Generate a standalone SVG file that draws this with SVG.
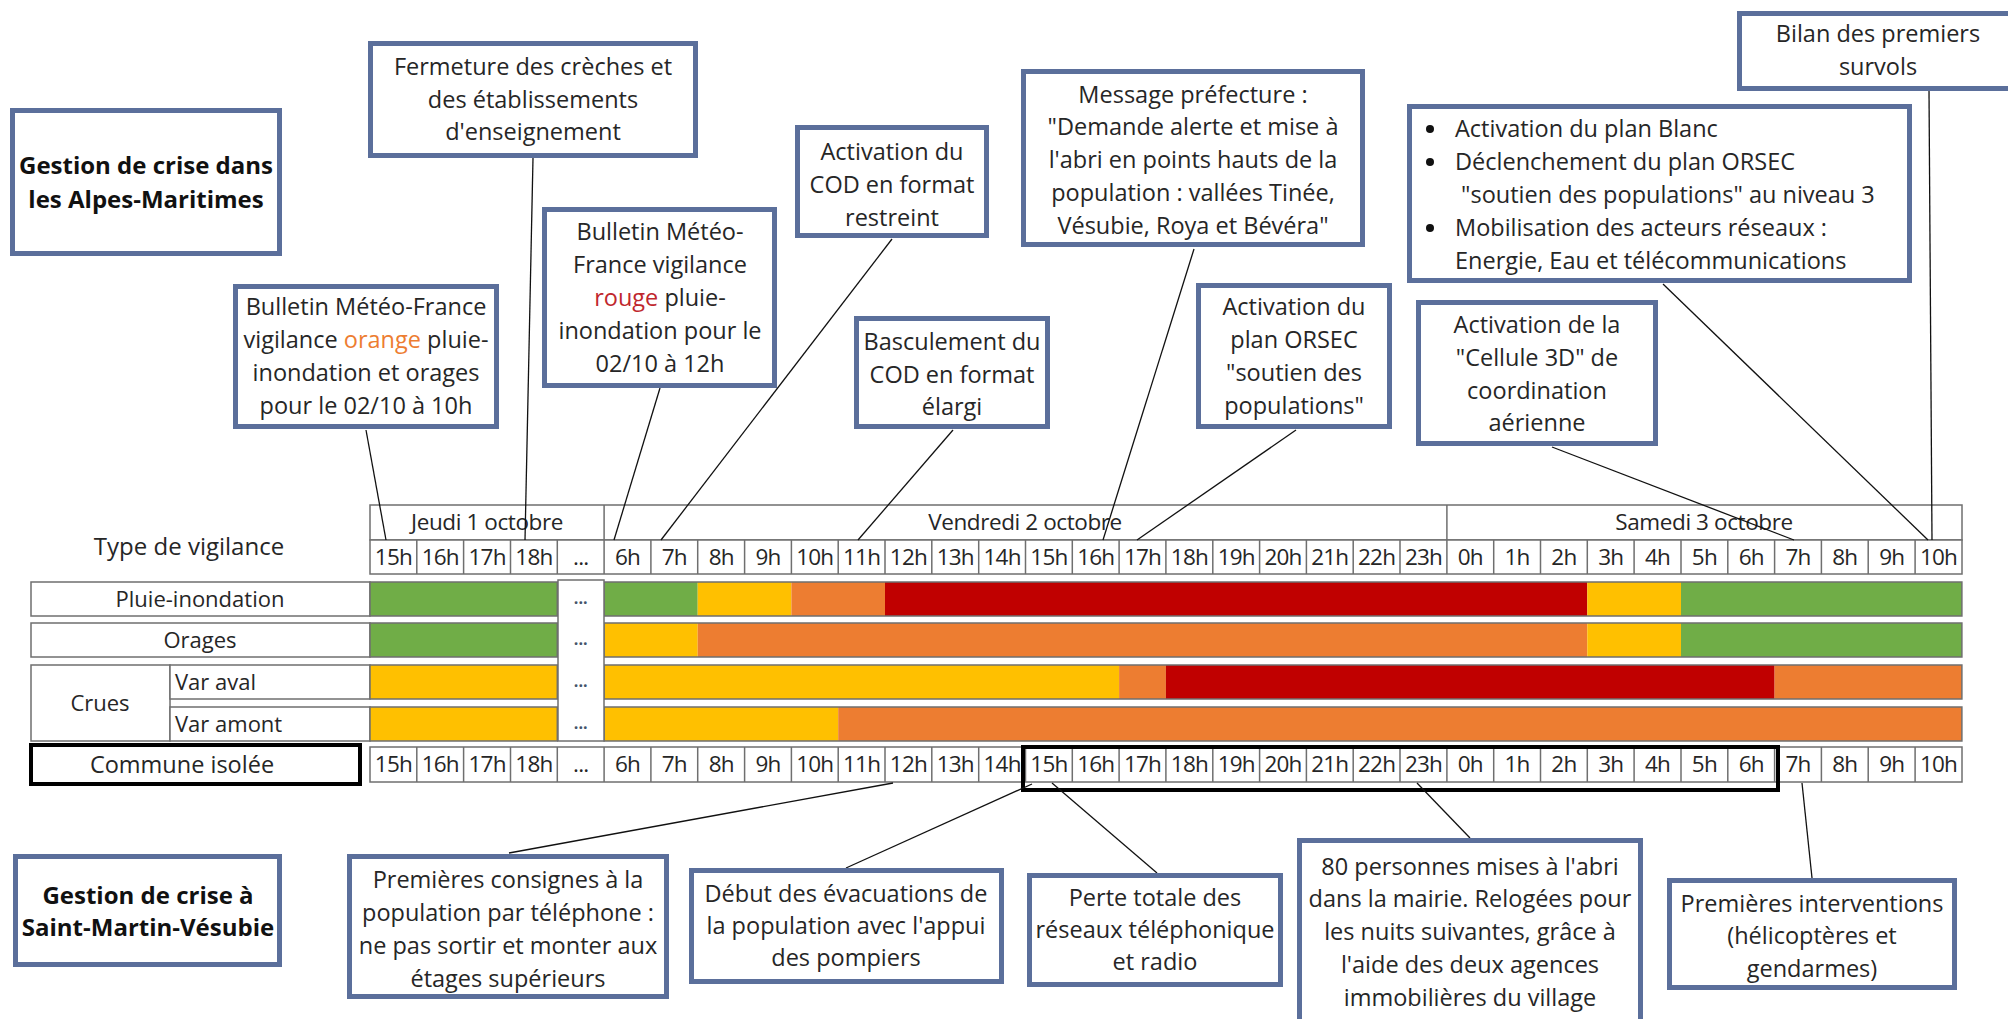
<svg xmlns="http://www.w3.org/2000/svg" width="2008" height="1019" viewBox="0 0 2008 1019">
<style>
.box{fill:#fff;stroke:#5B6F9B;stroke-width:5}
.t{font-family:"Open Sans","DejaVu Sans",sans-serif;font-size:23.5px;fill:#262626;text-anchor:middle}
.rl{font-size:22px}
.l{text-anchor:start}
.bd{font-weight:bold;fill:#111;font-size:24px}
.cell{fill:#fff;stroke:#6f6f6f;stroke-width:1.5}
.h{font-family:"Open Sans","DejaVu Sans",sans-serif;font-size:22.5px;fill:#262626;text-anchor:middle;letter-spacing:-0.8px}
.day{font-size:22.5px;letter-spacing:-0.4px}
.dots{font-family:"Open Sans",sans-serif;font-size:16px;fill:#44546A;text-anchor:middle;font-weight:bold}
.g{fill:#70AD47}.y{fill:#FFC000}.o{fill:#ED7D31}.r{fill:#C00000}
.conn line{stroke:#111;stroke-width:1.3}
.grid{fill:none;stroke:#6f6f6f;stroke-width:1.5}
.bul{fill:#111}
</style>

<g id="table">
  <!-- day header -->
  <rect class="cell" x="370" y="505" width="1592" height="35"/>
  <path class="grid" d="M604.1 505V540M1446.9 505V540"/>
  <text class="h day" x="487" y="530">Jeudi 1 octobre</text>
  <text class="h day" x="1025" y="530">Vendredi 2 octobre</text>
  <text class="h day" x="1704" y="530">Samedi 3 octobre</text>
  <!-- hour row top -->
  <rect class="cell" x="370" y="540" width="1592" height="34"/>
  <path class="grid" d="M416.8 540V574M463.6 540V574M510.5 540V574M557.3 540V574M604.1 540V574M650.9 540V574M697.7 540V574M744.6 540V574M791.4 540V574M838.2 540V574M885 540V574M931.8 540V574M978.7 540V574M1025.5 540V574M1072.3 540V574M1119.1 540V574M1165.9 540V574M1212.8 540V574M1259.6 540V574M1306.4 540V574M1353.2 540V574M1400 540V574M1446.9 540V574M1493.7 540V574M1540.5 540V574M1587.3 540V574M1634.1 540V574M1681 540V574M1727.8 540V574M1774.6 540V574M1821.4 540V574M1868.2 540V574M1915.1 540V574"/>
  <g id="hours-top">
    <text class="h" x="393.4" y="565">15h</text><text class="h" x="440.2" y="565">16h</text><text class="h" x="487.1" y="565">17h</text><text class="h" x="533.9" y="565">18h</text><text class="h" x="580.7" y="565">...</text>
    <text class="h" x="627.5" y="565">6h</text><text class="h" x="674.3" y="565">7h</text><text class="h" x="721.2" y="565">8h</text><text class="h" x="768" y="565">9h</text><text class="h" x="814.8" y="565">10h</text><text class="h" x="861.6" y="565">11h</text><text class="h" x="908.4" y="565">12h</text><text class="h" x="955.3" y="565">13h</text><text class="h" x="1002.1" y="565">14h</text><text class="h" x="1048.9" y="565">15h</text><text class="h" x="1095.7" y="565">16h</text><text class="h" x="1142.5" y="565">17h</text><text class="h" x="1189.4" y="565">18h</text><text class="h" x="1236.2" y="565">19h</text><text class="h" x="1283" y="565">20h</text><text class="h" x="1329.8" y="565">21h</text><text class="h" x="1376.6" y="565">22h</text><text class="h" x="1423.5" y="565">23h</text>
    <text class="h" x="1470.3" y="565">0h</text><text class="h" x="1517.1" y="565">1h</text><text class="h" x="1563.9" y="565">2h</text><text class="h" x="1610.7" y="565">3h</text><text class="h" x="1657.6" y="565">4h</text><text class="h" x="1704.4" y="565">5h</text><text class="h" x="1751.2" y="565">6h</text><text class="h" x="1798" y="565">7h</text><text class="h" x="1844.8" y="565">8h</text><text class="h" x="1891.7" y="565">9h</text><text class="h" x="1938.5" y="565">10h</text>
  </g>
  <text class="t" x="189" y="555" style="font-size:24px">Type de vigilance</text>

  <!-- row labels -->
  <rect class="cell" x="31" y="582" width="339" height="34"/>
  <text class="t rl" x="200" y="607">Pluie-inondation</text>
  <rect class="cell" x="31" y="623" width="339" height="34"/>
  <text class="t rl" x="200" y="648">Orages</text>
  <rect class="cell" x="31" y="665" width="139" height="76"/>
  <text class="t rl" x="100" y="711">Crues</text>
  <rect class="cell" x="170" y="665" width="200" height="34"/>
  <text class="t rl l" x="175" y="690">Var aval</text>
  <rect class="cell" x="170" y="707" width="200" height="34"/>
  <text class="t rl l" x="175" y="732">Var amont</text>

  <!-- bars -->
  <g id="bar-pluie">
    <rect class="g" x="370" y="582" width="187.3" height="34"/>
    <rect class="g" x="604.1" y="582" width="93.6" height="34"/>
    <rect class="y" x="697.7" y="582" width="93.7" height="34"/>
    <rect class="o" x="791.4" y="582" width="93.6" height="34"/>
    <rect class="r" x="885" y="582" width="702.3" height="34"/>
    <rect class="y" x="1587.3" y="582" width="93.7" height="34"/>
    <rect class="g" x="1681" y="582" width="280.9" height="34"/>
  </g>
  <g id="bar-orages">
    <rect class="g" x="370" y="623" width="187.3" height="34"/>
    <rect class="y" x="604.1" y="623" width="93.6" height="34"/>
    <rect class="o" x="697.7" y="623" width="889.6" height="34"/>
    <rect class="y" x="1587.3" y="623" width="93.7" height="34"/>
    <rect class="g" x="1681" y="623" width="280.9" height="34"/>
  </g>
  <g id="bar-var-aval">
    <rect class="y" x="370" y="665" width="187.3" height="34"/>
    <rect class="y" x="604.1" y="665" width="515" height="34"/>
    <rect class="o" x="1119.1" y="665" width="46.8" height="34"/>
    <rect class="r" x="1165.9" y="665" width="608.7" height="34"/>
    <rect class="o" x="1774.6" y="665" width="187.3" height="34"/>
  </g>
  <g id="bar-var-amont">
    <rect class="y" x="370" y="707" width="187.3" height="34"/>
    <rect class="y" x="604.1" y="707" width="234.1" height="34"/>
    <rect class="o" x="838.2" y="707" width="1123.7" height="34"/>
  </g>
  <path class="grid" d="M370 582H557.3V616H370ZM604.1 582H1961.9V616H604.1ZM370 623H557.3V657H370ZM604.1 623H1961.9V657H604.1ZM370 665H557.3V699H370ZM604.1 665H1961.9V699H604.1ZM370 707H557.3V741H370ZM604.1 707H1961.9V741H604.1Z"/>
  <rect class="cell" x="558" y="580" width="46" height="161"/>
  <text class="dots" x="580.7" y="604">...</text>
  <text class="dots" x="580.7" y="645">...</text>
  <text class="dots" x="580.7" y="687">...</text>
  <text class="dots" x="580.7" y="729">...</text>

  <!-- bottom hour row -->
  <rect class="cell" x="370" y="747" width="1592" height="35"/>
  <path class="grid" d="M416.8 747V782M463.6 747V782M510.5 747V782M557.3 747V782M604.1 747V782M650.9 747V782M697.7 747V782M744.6 747V782M791.4 747V782M838.2 747V782M885 747V782M931.8 747V782M978.7 747V782M1025.5 747V782M1072.3 747V782M1119.1 747V782M1165.9 747V782M1212.8 747V782M1259.6 747V782M1306.4 747V782M1353.2 747V782M1400 747V782M1446.9 747V782M1493.7 747V782M1540.5 747V782M1587.3 747V782M1634.1 747V782M1681 747V782M1727.8 747V782M1774.6 747V782M1821.4 747V782M1868.2 747V782M1915.1 747V782"/>
  <g id="hours-bottom">
    <text class="h" x="393.4" y="772">15h</text><text class="h" x="440.2" y="772">16h</text><text class="h" x="487.1" y="772">17h</text><text class="h" x="533.9" y="772">18h</text><text class="h" x="580.7" y="772">...</text>
    <text class="h" x="627.5" y="772">6h</text><text class="h" x="674.3" y="772">7h</text><text class="h" x="721.2" y="772">8h</text><text class="h" x="768" y="772">9h</text><text class="h" x="814.8" y="772">10h</text><text class="h" x="861.6" y="772">11h</text><text class="h" x="908.4" y="772">12h</text><text class="h" x="955.3" y="772">13h</text><text class="h" x="1002.1" y="772">14h</text><text class="h" x="1048.9" y="772">15h</text><text class="h" x="1095.7" y="772">16h</text><text class="h" x="1142.5" y="772">17h</text><text class="h" x="1189.4" y="772">18h</text><text class="h" x="1236.2" y="772">19h</text><text class="h" x="1283" y="772">20h</text><text class="h" x="1329.8" y="772">21h</text><text class="h" x="1376.6" y="772">22h</text><text class="h" x="1423.5" y="772">23h</text>
    <text class="h" x="1470.3" y="772">0h</text><text class="h" x="1517.1" y="772">1h</text><text class="h" x="1563.9" y="772">2h</text><text class="h" x="1610.7" y="772">3h</text><text class="h" x="1657.6" y="772">4h</text><text class="h" x="1704.4" y="772">5h</text><text class="h" x="1751.2" y="772">6h</text><text class="h" x="1798" y="772">7h</text><text class="h" x="1844.8" y="772">8h</text><text class="h" x="1891.7" y="772">9h</text><text class="h" x="1938.5" y="772">10h</text>
  </g>
  <rect x="1023" y="747" width="755" height="43" fill="none" stroke="#000" stroke-width="4"/>
  <rect x="31" y="745" width="329" height="39" fill="#fff" stroke="#000" stroke-width="4"/>
  <text class="t" x="182" y="773">Commune isolée</text>
</g>

<g class="conn" id="connectors">
  <line x1="366" y1="430" x2="386" y2="540"/>
  <line x1="533" y1="158" x2="525" y2="540"/>
  <line x1="660" y1="388" x2="614" y2="540"/>
  <line x1="892" y1="239" x2="661" y2="540"/>
  <line x1="953" y1="430" x2="858" y2="540"/>
  <line x1="1194" y1="249" x2="1103" y2="540"/>
  <line x1="1296" y1="430" x2="1137" y2="540"/>
  <line x1="1552" y1="447" x2="1794" y2="540"/>
  <line x1="1663" y1="284" x2="1928" y2="540"/>
  <line x1="1929" y1="90" x2="1932" y2="540"/>
  <line x1="509" y1="853" x2="893" y2="783"/>
  <line x1="846" y1="868" x2="1032" y2="784"/>
  <line x1="1157" y1="873" x2="1052" y2="783"/>
  <line x1="1470" y1="838" x2="1417" y2="783"/>
  <line x1="1812" y1="878" x2="1802" y2="783"/>
</g>

<g id="n-gestion-am">
  <rect class="box" x="12.5" y="110.5" width="267" height="143"/>
  <text class="t bd" x="146" y="174">Gestion de crise dans</text>
  <text class="t bd" x="146" y="208">les Alpes-Maritimes</text>
</g>
<g id="n-fermeture">
  <rect class="box" x="370.5" y="43.5" width="325" height="112"/>
  <text class="t" x="533" y="75">Fermeture des crèches et</text>
  <text class="t" x="533" y="108">des établissements</text>
  <text class="t" x="533" y="140">d'enseignement</text>
</g>
<g id="n-bulletin-orange">
  <rect class="box" x="235.5" y="286.5" width="261" height="140"/>
  <text class="t" x="366" y="315">Bulletin Météo-France</text>
  <text class="t" x="366" y="348">vigilance <tspan fill="#ED7D31">orange</tspan> pluie-</text>
  <text class="t" x="366" y="381">inondation et orages</text>
  <text class="t" x="366" y="414">pour le 02/10 à 10h</text>
</g>
<g id="n-bulletin-rouge">
  <rect class="box" x="544.5" y="209.5" width="230" height="176"/>
  <text class="t" x="660" y="240">Bulletin Météo-</text>
  <text class="t" x="660" y="273">France vigilance</text>
  <text class="t" x="660" y="306"><tspan fill="#C0272D">rouge</tspan> pluie-</text>
  <text class="t" x="660" y="339">inondation pour le</text>
  <text class="t" x="660" y="372">02/10 à 12h</text>
</g>
<g id="n-cod-restreint">
  <rect class="box" x="797.5" y="127.5" width="189" height="108"/>
  <text class="t" x="892" y="160">Activation du</text>
  <text class="t" x="892" y="193">COD en format</text>
  <text class="t" x="892" y="226">restreint</text>
</g>
<g id="n-basculement">
  <rect class="box" x="856.5" y="318.5" width="191" height="108"/>
  <text class="t" x="952" y="350">Basculement du</text>
  <text class="t" x="952" y="383">COD en format</text>
  <text class="t" x="952" y="415">élargi</text>
</g>
<g id="n-message">
  <rect class="box" x="1023.5" y="71.5" width="339" height="173"/>
  <text class="t" x="1193" y="103">Message préfecture :</text>
  <text class="t" x="1193" y="135">"Demande alerte et mise à</text>
  <text class="t" x="1193" y="168">l'abri en points hauts de la</text>
  <text class="t" x="1193" y="201">population : vallées Tinée,</text>
  <text class="t" x="1193" y="234">Vésubie, Roya et Bévéra"</text>
</g>
<g id="n-orsec">
  <rect class="box" x="1198.5" y="285.5" width="191" height="141"/>
  <text class="t" x="1294" y="315">Activation du</text>
  <text class="t" x="1294" y="348">plan ORSEC</text>
  <text class="t" x="1294" y="381">"soutien des</text>
  <text class="t" x="1294" y="414">populations"</text>
</g>
<g id="n-plans">
  <rect class="box" x="1409.5" y="106.5" width="500" height="174"/>
  <circle class="bul" cx="1430" cy="129" r="4"/>
  <text class="t l" x="1455" y="137">Activation du plan Blanc</text>
  <circle class="bul" cx="1430" cy="162" r="4"/>
  <text class="t l" x="1455" y="170">Déclenchement du plan ORSEC</text>
  <text class="t l" x="1455" y="203" xml:space="preserve"> "soutien des populations" au niveau 3</text>
  <circle class="bul" cx="1430" cy="228" r="4"/>
  <text class="t l" x="1455" y="236">Mobilisation des acteurs réseaux :</text>
  <text class="t l" x="1455" y="269">Energie, Eau et télécommunications</text>
</g>
<g id="n-cellule">
  <rect class="box" x="1418.5" y="302.5" width="237" height="141"/>
  <text class="t" x="1537" y="333">Activation de la</text>
  <text class="t" x="1537" y="366">"Cellule 3D" de</text>
  <text class="t" x="1537" y="399">coordination</text>
  <text class="t" x="1537" y="431">aérienne</text>
</g>
<g id="n-bilan">
  <rect class="box" x="1739.5" y="13.5" width="278" height="75"/>
  <text class="t" x="1878" y="42">Bilan des premiers</text>
  <text class="t" x="1878" y="75">survols</text>
</g>

<g id="n-gestion-smv">
  <rect class="box" x="15.5" y="856.5" width="264" height="108"/>
  <text class="t bd" x="148" y="904">Gestion de crise à</text>
  <text class="t bd" x="148" y="936">Saint-Martin-Vésubie</text>
</g>
<g id="n-consignes">
  <rect class="box" x="349.5" y="856.5" width="317" height="140"/>
  <text class="t" x="508" y="888">Premières consignes à la</text>
  <text class="t" x="508" y="921">population par téléphone :</text>
  <text class="t" x="508" y="954">ne pas sortir et monter aux</text>
  <text class="t" x="508" y="987">étages supérieurs</text>
</g>
<g id="n-evacuations">
  <rect class="box" x="691.5" y="870.5" width="310" height="111"/>
  <text class="t" x="846" y="902">Début des évacuations de</text>
  <text class="t" x="846" y="934">la population avec l'appui</text>
  <text class="t" x="846" y="966">des pompiers</text>
</g>
<g id="n-perte">
  <rect class="box" x="1029.5" y="875.5" width="251" height="109"/>
  <text class="t" x="1155" y="906">Perte totale des</text>
  <text class="t" x="1155" y="938">réseaux téléphonique</text>
  <text class="t" x="1155" y="970">et radio</text>
</g>
<g id="n-80personnes">
  <rect class="box" x="1299.5" y="840.5" width="341" height="190"/>
  <text class="t" x="1470" y="875">80 personnes mises à l'abri</text>
  <text class="t" x="1470" y="907">dans la mairie. Relogées pour</text>
  <text class="t" x="1470" y="940">les nuits suivantes, grâce à</text>
  <text class="t" x="1470" y="973">l'aide des deux agences</text>
  <text class="t" x="1470" y="1006">immobilières du village</text>
</g>
<g id="n-interventions">
  <rect class="box" x="1669.5" y="880.5" width="285" height="107"/>
  <text class="t" x="1812" y="912">Premières interventions</text>
  <text class="t" x="1812" y="944">(hélicoptères et</text>
  <text class="t" x="1812" y="977">gendarmes)</text>
</g>
</svg>
